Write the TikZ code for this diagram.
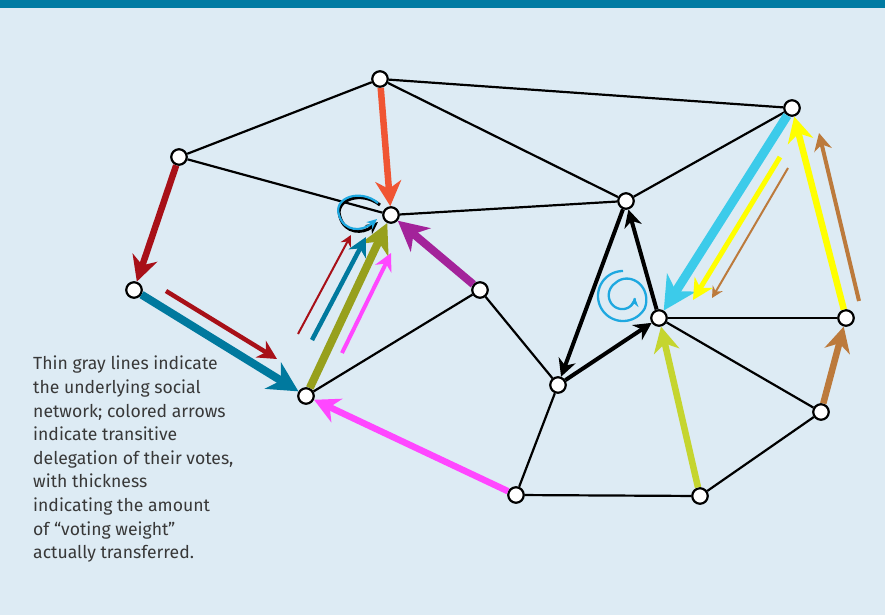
\documentclass[tikz,border=0pt]{standalone}
\usepackage{fontspec}
\setmainfont{Fira Sans}
\usepackage{tikz}
\usetikzlibrary{arrows.meta}

\definecolor{bgblue}{HTML}{DDEBF4}
\definecolor{headblue}{HTML}{007BA3}
\definecolor{dkred}{HTML}{A81018}
\definecolor{tealblue}{HTML}{00799E}
\definecolor{olive}{HTML}{97A01C}
\definecolor{tomato}{HTML}{F05533}
\definecolor{plum}{HTML}{A3239A}
\definecolor{hotpink}{HTML}{FF47FF}
\definecolor{skycyan}{HTML}{3CCBEA}
\definecolor{lemon}{HTML}{FFFF00}
\definecolor{tan}{HTML}{BC7A3C}
\definecolor{lime}{HTML}{C5D52F}
\definecolor{swirl}{HTML}{1EA8E0}
\definecolor{note}{HTML}{383838}

\tikzset{
  vtx/.style={circle,draw=black,fill=white,line width=2.2pt,minimum size=15.5pt,inner sep=0pt},
  link/.style={line width=2.2pt},
  deleg/.style={line width=#1,
    -{Stealth[length=5pt 3.1,width=5pt 3.2,inset=2pt 0.9]}}
}

\begin{document}
\begin{tikzpicture}[x=1pt,y=-1pt]
  \useasboundingbox (0,0) rectangle (885,615);
  \fill[bgblue] (0,0) rectangle (885,615);
  \fill[headblue] (0,0) rectangle (885,8);

  % voters
  \node[vtx] (A) at (380,79) {};
  \node[vtx] (B) at (179,157) {};
  \node[vtx] (C) at (134,290) {};
  \node[vtx] (D) at (391,215) {};
  \node[vtx] (E) at (306,396) {};
  \node[vtx] (F) at (480,290) {};
  \node[vtx] (G) at (626,201) {};
  \node[vtx] (H) at (792,108) {};
  \node[vtx] (I) at (558,385) {};
  \node[vtx] (J) at (659,318) {};
  \node[vtx] (K) at (846,318) {};
  \node[vtx] (L) at (821,412) {};
  \node[vtx] (M) at (516,495) {};
  \node[vtx] (N) at (700,496) {};

  % social network
  \draw[link] (A) -- (B);
  \draw[link] (A) -- (G);
  \draw[link] (A) -- (H);
  \draw[link] (B) -- (D);
  \draw[link] (D) -- (G);
  \draw[link] (G) -- (H);
  \draw[link] (E) -- (F);
  \draw[link] (F) -- (I);
  \draw[link] (I) -- (M);
  \draw[link] (M) -- (N);
  \draw[link] (N) -- (L);
  \draw[link] (J) -- (L);
  \draw[link] (J) -- (K);

  % delegations
  \draw[deleg=6.5pt,dkred] (B) -- (C);
  \draw[deleg=8pt,tealblue] (C) -- (E);
  \draw[deleg=6.5pt,hotpink] (M) -- (E);
  \draw[deleg=8pt,olive] (E) -- (D);
  \draw[deleg=6.5pt,tomato] (A) -- (D);
  \draw[deleg=8pt,plum] (F) -- (D);
  \draw[deleg=4pt,black] (G) -- (I);
  \draw[deleg=4pt,black] (I) -- (J);
  \draw[deleg=4pt,black] (J) -- (G);
  \draw[deleg=9pt,skycyan] (H) -- (J);
  \draw[deleg=6.5pt,lime] (N) -- (J);
  \draw[deleg=6.5pt,tan] (L) -- (K);
  \draw[deleg=6.5pt,lemon] (K) -- (H);

  % weight carried along
  \coordinate (r1a) at (166,291);  \coordinate (r1b) at (277,359);
  \coordinate (r2a) at (298,334);  \coordinate (r2b) at (351,235);
  \coordinate (b2a) at (312,340);  \coordinate (b2b) at (366,237);
  \coordinate (p2a) at (342,353);  \coordinate (p2b) at (391,253);
  \coordinate (y2a) at (780,157);  \coordinate (y2b) at (693,300);
  \coordinate (t2a) at (788,168);  \coordinate (t2b) at (712,298);
  \coordinate (t3a) at (859,301);  \coordinate (t3b) at (819,133);
  \draw[deleg=4.5pt,dkred] (r1a) -- (r1b);
  \draw[deleg=2pt,dkred] (r2a) -- (r2b);
  \draw[deleg=4.5pt,tealblue] (b2a) -- (b2b);
  \draw[deleg=4pt,hotpink] (p2a) -- (p2b);
  \draw[deleg=5pt,lemon] (y2a) -- (y2b);
  \draw[deleg=2pt,tan] (t2a) -- (t2b);
  \draw[deleg=4pt,tan] (t3a) -- (t3b);

  % self loop at D
  \draw[black,line width=3pt,-{Stealth[length=12pt,width=11pt,inset=3.5pt]}]
    (380,205) .. controls (361,190) and (334,200) .. (340,217)
    .. controls (345,234) and (363,234) .. (378,222);
  \draw[swirl,line width=2.2pt,-{Stealth[length=10pt,width=9pt,inset=3pt]}]
    (378,203) .. controls (360,188) and (333,198) .. (339,215)
    .. controls (344,232) and (362,232) .. (377,219);

  % spiral
  \draw[swirl,line width=2.3pt,-{Stealth[length=9pt,width=9pt,inset=3pt]}]
    plot[domain=90:712,samples=180,smooth]
    ({623+(25-10*min(1,max(0,(\x-330)/150))-3*max(0,(\x-480)/232))*cos(\x)},
     {296-(25-10*min(1,max(0,(\x-330)/150))-3*max(0,(\x-480)/232))*sin(\x)});

  \node[anchor=north west,align=left,inner sep=0pt,text=note,
    font=\fontsize{17.6}{23.6}\selectfont] (caption) at (33,356)
    {Thin gray lines indicate\\
     the underlying social\\
     network; colored arrows\\
     indicate transitive\\
     delegation of their votes,\\
     with thickness\\
     indicating the amount\\
     of “voting weight”\\
     actually transferred.};
\end{tikzpicture}
\end{document}
